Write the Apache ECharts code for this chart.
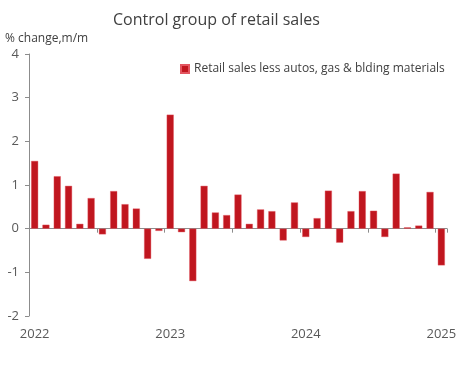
<!DOCTYPE html>
<html>
<head>
<meta charset="utf-8">
<script src="https://cdn.jsdelivr.net/npm/echarts@6/dist/echarts.min.js"></script>
<style>
html,body{margin:0;padding:0;background:#fff;}
#chart{width:463px;height:369px;}
</style>
</head>
<body>
<div id="chart"></div>
<script>
var months = [
  '2022-01','2022-02','2022-03','2022-04','2022-05','2022-06','2022-07','2022-08','2022-09','2022-10','2022-11','2022-12',
  '2023-01','2023-02','2023-03','2023-04','2023-05','2023-06','2023-07','2023-08','2023-09','2023-10','2023-11','2023-12',
  '2024-01','2024-02','2024-03','2024-04','2024-05','2024-06','2024-07','2024-08','2024-09','2024-10','2024-11','2024-12',
  '2025-01'
];
var controlGroup = [
  1.55, 0.09, 1.20, 0.98, 0.11, 0.70, -0.13, 0.86, 0.56, 0.46, -0.69, -0.05,
  2.61, -0.08, -1.20, 0.98, 0.37, 0.31, 0.78, 0.11, 0.44, 0.40, -0.27, 0.60,
  -0.19, 0.24, 0.87, -0.32, 0.40, 0.86, 0.41, -0.19, 1.26, 0.03, 0.07, 0.84,
  -0.84
];
var seriesName = 'Retail sales less autos, gas & blding materials';
var titleText = 'Control group of retail sales';
var yAxisName = '% change,m/m';

var FONT = '"Open Sans", "Noto Sans", sans-serif';
var chart = echarts.init(document.getElementById('chart'), null, {renderer: 'canvas'});
chart.setOption({
  animation: false,
  backgroundColor: '#ffffff',
  title: {
    text: titleText,
    left: 108, top: 7,
    textStyle: {fontFamily: FONT, fontSize: 16, fontWeight: 'normal', color: '#404040'}
  },
  legend: {
    data: [seriesName],
    left: 175, top: 58,
    itemWidth: 8, itemHeight: 8, itemGap: 4,
    icon: 'rect',
    textStyle: {fontFamily: FONT, fontSize: 12, color: '#404040'}
  },
  grid: {left: 29, right: 16, top: 54, bottom: 53, containLabel: false},
  xAxis: {
    type: 'category',
    data: months,
    boundaryGap: true,
    axisLine: {onZero: true, lineStyle: {color: '#8c8c8c', width: 1}},
    axisTick: {show: true, interval: 5, length: 4, inside: false, lineStyle: {color: '#8c8c8c'}},
    axisLabel: {
      interval: 11,
      fontFamily: FONT, fontSize: 13, color: '#595959',
      margin: 12,
      formatter: function (v) { return v.slice(0, 4); }
    },
    position: 'bottom'
  },
  yAxis: {
    type: 'value',
    min: -2, max: 4, interval: 1,
    name: yAxisName,
    nameLocation: 'end',
    nameGap: 9,
    nameTextStyle: {fontFamily: FONT, fontSize: 12, color: '#404040', align: 'left', padding: [0,0,0,-24]},
    axisLine: {show: true, lineStyle: {color: '#8c8c8c', width: 1}},
    axisTick: {show: true, length: 4, lineStyle: {color: '#8c8c8c'}},
    splitLine: {show: false},
    axisLabel: {fontFamily: FONT, fontSize: 13, color: '#595959', margin: 10}
  },
  series: [{
    name: seriesName,
    type: 'bar',
    data: controlGroup,
    barWidth: 7,
    itemStyle: {color: '#C0161F', borderColor: '#E35560', borderWidth: 0.4}
  }]
});
</script>
</body>
</html>
